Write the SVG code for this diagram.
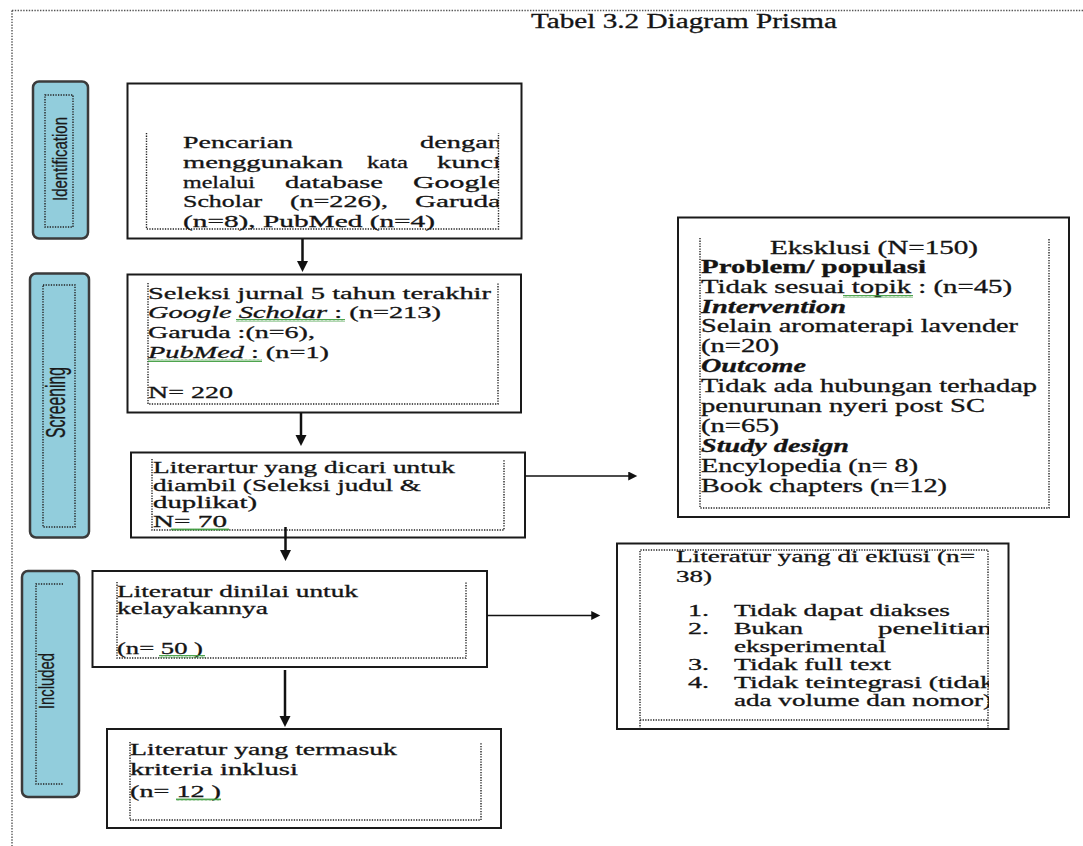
<svg xmlns="http://www.w3.org/2000/svg" width="1083" height="846" viewBox="0 0 1083 846">
<style>
.frame{fill:none;stroke:#555;stroke-width:1.4;stroke-dasharray:1.4 1.4}
.box{fill:#fff;stroke:#1a1a1a;stroke-width:2}
.dot{fill:none;stroke:#222;stroke-width:1.4;stroke-dasharray:1.3 1.3}
.lab{fill:#92CDDC;stroke:#3b3b3b;stroke-width:2.5}
.t{font-family:"Liberation Serif","Times New Roman",serif;font-size:17px;fill:#141414;stroke:#141414;stroke-width:0.3}
.e{font-size:18px}
.s{font-size:16px}
.ls{font-family:"Liberation Sans Narrow","Liberation Sans",Arial,sans-serif;fill:#1a1a1a;stroke:#1a1a1a;stroke-width:0.3}
.sq{fill:url(#wv)}
.conn line{stroke:#111;fill:none}
.v{stroke-width:2.5}
.h{stroke-width:1.6}
</style>
<defs>
<marker id="ah" viewBox="0 0 10 10" refX="4.5" refY="5" markerUnits="userSpaceOnUse" markerWidth="11" markerHeight="14" orient="auto"><path d="M0,0 L10,5 L0,10 z" fill="#111"/></marker>
<marker id="ahs" viewBox="0 0 10 10" refX="4.5" refY="5" markerUnits="userSpaceOnUse" markerWidth="14" markerHeight="9" orient="auto"><path d="M0,0 L10,5 L0,10 z" fill="#111"/></marker>
<pattern id="wv" width="4" height="3" patternUnits="userSpaceOnUse"><path d="M0,2.5 L1,0.5 L2,2.5 L3,0.5 L4,2.5" fill="none" stroke="#3a9a3a" stroke-width="0.9"/></pattern>
<clipPath id="c1"><rect x="140" y="120" width="358.5" height="120"/></clipPath>
<clipPath id="c6"><rect x="630" y="545" width="359" height="180"/></clipPath>
</defs>

<path class="frame" d="M12,10.5 H1083 M12,10.5 V846"/>

<g id="title">
<text class="t" x="531" y="28" textLength="306" lengthAdjust="spacingAndGlyphs" style="font-size:20px">Tabel 3.2 Diagram Prisma</text>
</g>

<g id="label-identification">
<rect class="lab" x="33" y="81.5" width="55" height="157" rx="6"/>
<rect class="dot" x="45" y="95" width="28" height="132"/>
<text class="ls" transform="translate(67,159) rotate(-90)" text-anchor="middle" font-size="19.5" textLength="84" lengthAdjust="spacingAndGlyphs">Identification</text>
</g>

<g id="node-identification">
<rect class="box" x="127.5" y="83.5" width="394" height="155"/>
<path class="dot" d="M146.5,133 V229 H498.5 V133"/>
<g clip-path="url(#c1)">
<text class="t" y="148"><tspan x="183" textLength="110" lengthAdjust="spacingAndGlyphs">Pencarian</tspan> <tspan x="420" textLength="82" lengthAdjust="spacingAndGlyphs">dengan</tspan></text>
<text class="t" y="168"><tspan x="183" textLength="160" lengthAdjust="spacingAndGlyphs">menggunakan</tspan> <tspan x="367" textLength="41" lengthAdjust="spacingAndGlyphs">kata</tspan> <tspan x="437" textLength="64" lengthAdjust="spacingAndGlyphs">kunci</tspan></text>
<text class="t" y="188"><tspan x="183" textLength="72" lengthAdjust="spacingAndGlyphs">melalui</tspan> <tspan x="285" textLength="98" lengthAdjust="spacingAndGlyphs">database</tspan> <tspan x="413" textLength="88" lengthAdjust="spacingAndGlyphs">Google</tspan></text>
<text class="t" y="207"><tspan x="183" textLength="79" lengthAdjust="spacingAndGlyphs">Scholar</tspan> <tspan x="290" textLength="98" lengthAdjust="spacingAndGlyphs">(n=226),</tspan> <tspan x="415" textLength="86" lengthAdjust="spacingAndGlyphs">Garuda</tspan></text>
<text class="t" x="183" y="227" textLength="252" lengthAdjust="spacingAndGlyphs">(n=8), PubMed (n=4)</text>
</g>
</g>

<g id="label-screening">
<rect class="lab" x="30" y="273.5" width="59" height="264" rx="6"/>
<rect class="dot" x="43" y="285" width="32" height="242"/>
<text class="ls" transform="translate(65,402.5) rotate(-90)" text-anchor="middle" font-size="27" textLength="71" lengthAdjust="spacingAndGlyphs">Screening</text>
</g>

<g id="node-seleksi">
<rect class="box" x="127.5" y="274.5" width="393.5" height="138"/>
<path class="dot" d="M148,283 V404 H498 V283"/>
<text class="t" x="148" y="299" textLength="343" lengthAdjust="spacingAndGlyphs">Seleksi jurnal 5 tahun terakhir</text>
<text class="t" x="148" y="318" textLength="293" lengthAdjust="spacingAndGlyphs"><tspan font-style="italic">Google Scholar</tspan> : (n=213)</text>
<rect class="sq" x="236" y="319" width="109" height="3"/>
<text class="t" x="148" y="338" textLength="167" lengthAdjust="spacingAndGlyphs">Garuda :(n=6),</text>
<text class="t" x="148" y="358" textLength="181" lengthAdjust="spacingAndGlyphs"><tspan font-style="italic">PubMed</tspan> : (n=1)</text>
<rect class="sq" x="148" y="359" width="114" height="3"/>
<text class="t" x="148" y="398" textLength="85" lengthAdjust="spacingAndGlyphs">N= 220</text>
</g>

<g id="node-literatur-dicari">
<rect class="box" x="131" y="452.5" width="394" height="85"/>
<path class="dot" d="M152,459 V530 H504 V459"/>
<text class="t" x="153" y="473" textLength="302" lengthAdjust="spacingAndGlyphs">Literartur yang dicari untuk</text>
<text class="t" x="153" y="491" textLength="268" lengthAdjust="spacingAndGlyphs">diambil (Seleksi judul &amp;</text>
<text class="t" x="153" y="508" textLength="104" lengthAdjust="spacingAndGlyphs">duplikat)</text>
<text class="t" x="153" y="527" textLength="74" lengthAdjust="spacingAndGlyphs">N= 70</text>
<rect class="sq" x="171" y="528" width="58" height="3"/>
</g>

<g id="node-eksklusi">
<rect class="box" x="678" y="217.5" width="391" height="299.5"/>
<path class="dot" d="M700,238 V508 H1049 V238"/>
<text class="t e" x="874" y="254" text-anchor="middle" textLength="208" lengthAdjust="spacingAndGlyphs">Eksklusi (N=150)</text>
<text class="t e" x="701" y="273" font-weight="bold" textLength="225" lengthAdjust="spacingAndGlyphs">Problem/ populasi</text>
<text class="t e" x="701" y="293" textLength="311" lengthAdjust="spacingAndGlyphs">Tidak sesuai topik : (n=45)</text>
<rect class="sq" x="843" y="295" width="70" height="3"/>
<text class="t e" x="701" y="313" font-weight="bold" font-style="italic" textLength="145" lengthAdjust="spacingAndGlyphs">Intervention</text>
<text class="t e" x="701" y="332" textLength="317" lengthAdjust="spacingAndGlyphs">Selain aromaterapi lavender</text>
<text class="t e" x="701" y="352" textLength="78" lengthAdjust="spacingAndGlyphs">(n=20)</text>
<text class="t e" x="701" y="372" font-weight="bold" font-style="italic" textLength="105" lengthAdjust="spacingAndGlyphs">Outcome</text>
<text class="t e" x="701" y="392" textLength="336" lengthAdjust="spacingAndGlyphs">Tidak ada hubungan terhadap</text>
<text class="t e" x="701" y="412" textLength="284" lengthAdjust="spacingAndGlyphs">penurunan nyeri post SC</text>
<text class="t e" x="701" y="432" textLength="78" lengthAdjust="spacingAndGlyphs">(n=65)</text>
<text class="t e" x="701" y="452" font-weight="bold" font-style="italic" textLength="148" lengthAdjust="spacingAndGlyphs">Study design</text>
<text class="t e" x="701" y="472" textLength="217" lengthAdjust="spacingAndGlyphs">Encylopedia (n= 8)</text>
<text class="t e" x="701" y="492" textLength="246" lengthAdjust="spacingAndGlyphs">Book chapters (n=12)</text>
</g>

<g id="label-included">
<rect class="lab" x="22" y="571" width="57" height="226" rx="6"/>
<path class="dot" d="M63,584 H36 V784 H63"/>
<text class="ls" transform="translate(54,681) rotate(-90)" text-anchor="middle" font-size="22.5" textLength="56" lengthAdjust="spacingAndGlyphs">Included</text>
</g>

<g id="node-literatur-dinilai">
<rect class="box" x="92.5" y="571" width="394.5" height="96"/>
<path class="dot" d="M117,582 V658 H466 V582"/>
<text class="t" x="117" y="597" textLength="241" lengthAdjust="spacingAndGlyphs">Literatur dinilai untuk</text>
<text class="t" x="117" y="614" textLength="151" lengthAdjust="spacingAndGlyphs">kelayakannya</text>
<text class="t" x="117" y="654" textLength="86" lengthAdjust="spacingAndGlyphs">(n= 50 )</text>
<rect class="sq" x="159" y="655" width="46" height="3"/>
</g>

<g id="node-literatur-termasuk">
<rect class="box" x="107" y="729" width="394" height="99"/>
<path class="dot" d="M130,742 V820 H481 V742"/>
<text class="t" x="130" y="755" textLength="267" lengthAdjust="spacingAndGlyphs">Literatur yang termasuk</text>
<text class="t" x="130" y="775" textLength="168" lengthAdjust="spacingAndGlyphs">kriteria inklusi</text>
<text class="t" x="130" y="797" textLength="91" lengthAdjust="spacingAndGlyphs">(n= 12 )</text>
<rect class="sq" x="176" y="798" width="45" height="3"/>
</g>

<g id="node-literatur-eklusi">
<rect class="box" x="617" y="543.5" width="391.5" height="185.5"/>
<path class="dot" d="M640,729 V550 H988 V729 M640,720 H988"/>
<g clip-path="url(#c6)">
<text class="t" x="676" y="562" textLength="299" lengthAdjust="spacingAndGlyphs">Literatur yang di eklusi (n=</text>
<text class="t" x="676" y="582" textLength="36" lengthAdjust="spacingAndGlyphs">38)</text>
<text class="t s" y="616"><tspan x="688" textLength="21" lengthAdjust="spacingAndGlyphs">1.</tspan> <tspan x="734" textLength="216" lengthAdjust="spacingAndGlyphs">Tidak dapat diakses</tspan></text>
<text class="t s" y="634"><tspan x="688" textLength="21" lengthAdjust="spacingAndGlyphs">2.</tspan> <tspan x="734" textLength="69" lengthAdjust="spacingAndGlyphs">Bukan</tspan> <tspan x="878" textLength="114" lengthAdjust="spacingAndGlyphs">penelitian</tspan></text>
<text class="t s" x="734" y="652" textLength="152" lengthAdjust="spacingAndGlyphs">eksperimental</text>
<text class="t s" y="670"><tspan x="688" textLength="21" lengthAdjust="spacingAndGlyphs">3.</tspan> <tspan x="734" textLength="157" lengthAdjust="spacingAndGlyphs">Tidak full text</tspan></text>
<text class="t s" y="688"><tspan x="688" textLength="21" lengthAdjust="spacingAndGlyphs">4.</tspan> <tspan x="734" textLength="260" lengthAdjust="spacingAndGlyphs">Tidak teintegrasi (tidak</tspan></text>
<text class="t s" x="734" y="706" textLength="258" lengthAdjust="spacingAndGlyphs">ada volume dan nomor)</text>
</g>
</g>

<g id="connectors" class="conn">
<line class="v" x1="302.5" y1="239" x2="302.5" y2="266" marker-end="url(#ah)"/>
<line class="v" x1="301" y1="413" x2="301" y2="440" marker-end="url(#ah)"/>
<line class="v" x1="285.5" y1="527" x2="285.5" y2="555" marker-end="url(#ah)"/>
<line class="v" x1="285" y1="670" x2="285" y2="721" marker-end="url(#ah)"/>
<line class="h" x1="525" y1="476" x2="632.3" y2="476" marker-end="url(#ahs)"/>
<line class="h" x1="487" y1="615.5" x2="595.3" y2="615.5" marker-end="url(#ahs)"/>
</g>
</svg>
